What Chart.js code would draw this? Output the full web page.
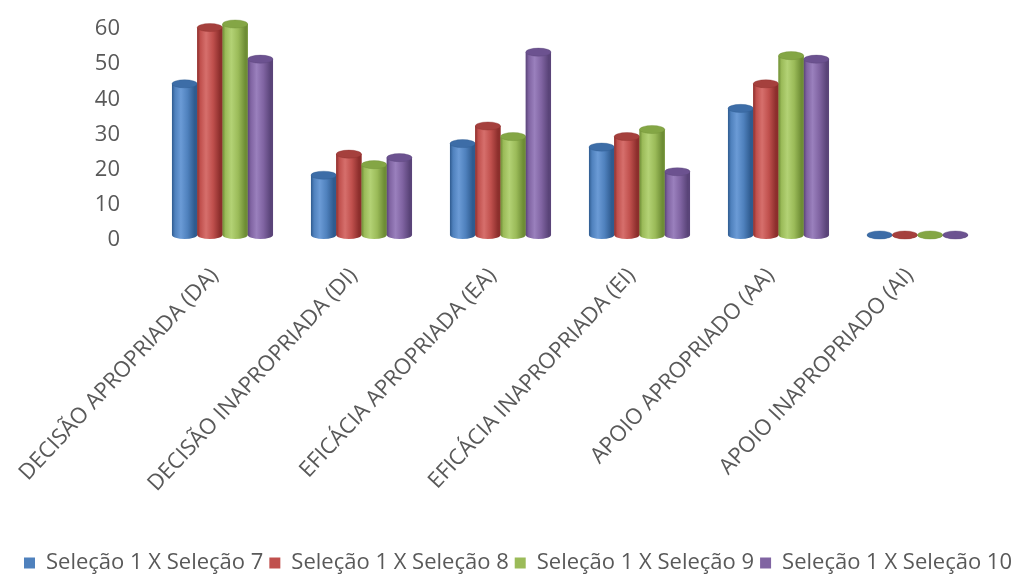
<!DOCTYPE html>
<html lang="pt">
<head>
<meta charset="utf-8">
<title>Seleção 1 comparada às seleções 7 a 10</title>
<script src="https://cdn.jsdelivr.net/npm/chart.js@4/dist/chart.umd.min.js"></script>
<style>
  html, body { margin: 0; padding: 0; background: #ffffff; }
  #wrap { width: 1024px; height: 576px; position: relative; }
</style>
</head>
<body>
<div id="wrap"><canvas id="chart" width="1024" height="576"></canvas></div>
<script>
// Categories and series values
const categories = [
  'DECISÃO APROPRIADA (DA)',
  'DECISÃO INAPROPRIADA (DI)',
  'EFICÁCIA APROPRIADA (EA)',
  'EFICÁCIA INAPROPRIADA (EI)',
  'APOIO APROPRIADO (AA)',
  'APOIO INAPROPRIADO (AI)'
];
const seriesNames = [
  'Seleção 1 X Seleção 7',
  'Seleção 1 X Seleção 8',
  'Seleção 1 X Seleção 9',
  'Seleção 1 X Seleção 10'
];
const sel7  = [43, 17, 26, 25, 36, 0];
const sel8  = [59, 23, 31, 28, 43, 0];
const sel9  = [60, 20, 28, 30, 51, 0];
const sel10 = [50, 22, 52, 18, 50, 0];
const yTicks = [0, 10, 20, 30, 40, 50, 60];

// Cylinder shading per series: edge, body, highlight, cap
const palette = [
  { base: '#4F81BD', dark: '#2F5B8F', light: '#6B9BD6', cap: '#3D6DA7' },
  { base: '#C0504D', dark: '#8C2E2C', light: '#D66F6C', cap: '#A5403D' },
  { base: '#9BBB59', dark: '#6E8D35', light: '#B3D275', cap: '#84A645' },
  { base: '#8064A2', dark: '#5A4479', light: '#9A80BD', cap: '#6C5290' }
];

const FONT = "'Open Sans', 'Noto Sans', sans-serif";
const TEXT = '#595959';

// Draws each bar as a shaded cylinder over the element geometry computed by Chart.js
const cylinders = {
  id: 'cylinders',
  afterDatasetsDraw(chart) {
    const ctx = chart.ctx;
    ctx.save();
    chart.data.datasets.forEach((ds, di) => {
      const meta = chart.getDatasetMeta(di);
      if (meta.hidden) return;
      const c = palette[di];
      meta.data.forEach(bar => {
        const { x, y, base, width } = bar.getProps(['x', 'y', 'base', 'width'], true);
        const rx = width / 2;
        const ry = width * 0.16;
        const left = x - rx;
        const g = ctx.createLinearGradient(left, 0, left + width, 0);
        g.addColorStop(0, c.dark);
        g.addColorStop(0.12, c.base);
        g.addColorStop(0.35, c.light);
        g.addColorStop(0.62, c.base);
        g.addColorStop(0.9, c.dark);
        g.addColorStop(1, c.dark);
        ctx.fillStyle = g;
        ctx.beginPath();
        ctx.moveTo(left, y);
        ctx.lineTo(left, base);
        ctx.ellipse(x, base, rx, ry, 0, Math.PI, 0, true);
        ctx.lineTo(left + width, y);
        ctx.closePath();
        ctx.fill();
        // top face
        ctx.beginPath();
        ctx.ellipse(x, y, rx, ry, 0, 0, Math.PI * 2);
        ctx.fillStyle = c.cap;
        ctx.fill();
        ctx.lineWidth = 1;
        ctx.strokeStyle = c.dark;
        ctx.globalAlpha = 0.35;
        ctx.stroke();
        ctx.globalAlpha = 1;
      });
    });
    ctx.restore();
  }
};

const seriesValues = [sel7, sel8, sel9, sel10];

new Chart(document.getElementById('chart'), {
  type: 'bar',
  data: {
    labels: categories,
    datasets: seriesNames.map((name, i) => ({
      label: name,
      data: seriesValues[i],
      backgroundColor: palette[i].base,
      borderWidth: 0,
      barPercentage: 1,
      categoryPercentage: 0.727,
      clip: false
    }))
  },
  options: {
    responsive: false,
    animation: false,
    layout: { padding: { top: 24, right: 0, bottom: -8, left: 12 } },
    plugins: {
      tooltip: { enabled: false },
      title: { display: false },
      legend: {
        position: 'bottom',
        labels: {
          color: TEXT,
          font: { family: FONT, size: 22 },
          boxWidth: 11,
          boxHeight: 11,
          padding: 6
        }
      }
    },
    scales: {
      x: {
        grid: { display: false },
        border: { display: false },
        ticks: {
          color: TEXT,
          font: { family: FONT, size: 22 },
          minRotation: 47,
          maxRotation: 47,
          autoSkip: false,
          padding: 20,
          labelOffset: -8
        },
        afterFit(scale) {
          scale.height = 311;
          scale.paddingLeft = 0;
          scale.paddingRight = 0;
        }
      },
      y: {
        min: 0,
        max: 60,
        grid: { display: false },
        border: { display: false },
        afterBuildTicks(scale) { scale.ticks = yTicks.map(v => ({ value: v })); },
        ticks: {
          color: TEXT,
          font: { family: FONT, size: 22 },
          padding: 25,
          labelOffset: 5,
          autoSkip: false
        },
        afterFit(scale) {
          scale.width = 141;
          scale.paddingTop = 0;
          scale.paddingBottom = 0;
        }
      },
      yRight: {
        position: 'right',
        display: true,
        grid: { display: false },
        border: { display: false },
        ticks: { display: false },
        afterFit(scale) { scale.width = 37; }
      }
    }
  },
  plugins: [cylinders]
});
</script>
</body>
</html>
